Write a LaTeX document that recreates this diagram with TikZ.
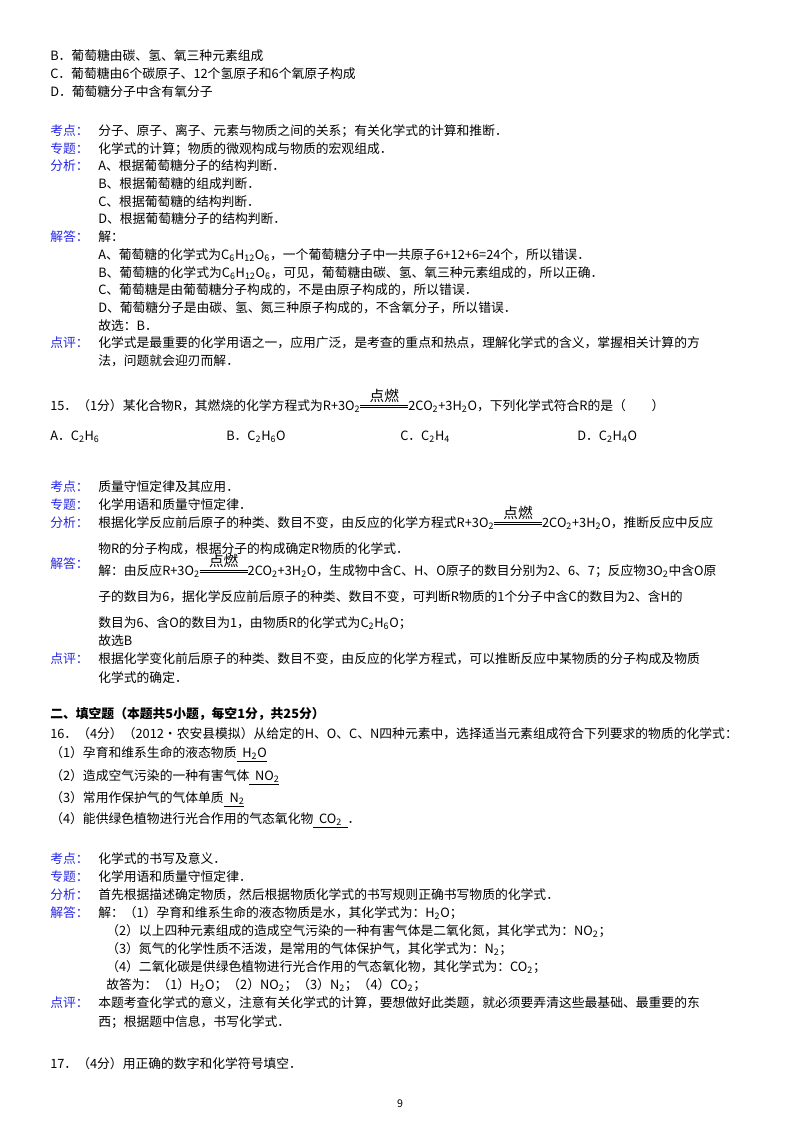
\documentclass[tikz,border=0pt]{standalone}
\usepackage{fontspec}
\setmainfont{Noto Sans CJK SC}
\definecolor{lbl}{RGB}{40,40,230}
\newcommand\s[1]{\textsubscript{#1}}
\newcommand\burn{\raisebox{1.6pt}{\rule{36pt}{0.6pt}}\hspace{-36pt}\raisebox{3.4pt}{\rule{36pt}{0.6pt}}\hspace{-36pt}\makebox[36pt]{\raisebox{6.5pt}{\fontsize{11}{11}\selectfont 点燃}}}
\begin{document}
\begin{tikzpicture}[x=0.75pt,y=-0.75pt,
  t/.style={anchor=base west,inner sep=0pt,font=\fontsize{9.6}{11}\selectfont},
  l/.style={t,text=lbl}]
\useasboundingbox (0,0) rectangle (800,1132);
\fill[white] (0,0) rectangle (800,1132);
% top options
\node[t] (b0) at (50,60) {B．葡萄糖由碳、氢、氧三种元素组成};
\node[t] (c0) at (50,78) {C．葡萄糖由6个碳原子、12个氢原子和6个氧原子构成};
\node[t] (d0) at (50,96) {D．葡萄糖分子中含有氧分子};
% section 14 analysis
\node[l] (k1) at (50,135) {考点：};
\node[t] at (98,135) {分子、原子、离子、元素与物质之间的关系；有关化学式的计算和推断．};
\node[l] (z1) at (50,153) {专题：};
\node[t] at (98,153) {化学式的计算；物质的微观构成与物质的宏观组成．};
\node[l] (f1) at (50,170) {分析：};
\node[t] at (98,170) {A、根据葡萄糖分子的结构判断．};
\node[t] at (98,188) {B、根据葡萄糖的组成判断．};
\node[t] at (98,206) {C、根据葡萄糖的结构判断．};
\node[t] at (98,223) {D、根据葡萄糖分子的结构判断．};
\node[l] (j1) at (50,241) {解答：};
\node[t] at (98,241) {解：};
\node[t] at (98,259) {A、葡萄糖的化学式为C\s{6}H\s{12}O\s{6}，一个葡萄糖分子中一共原子6+12+6=24个，所以错误．};
\node[t] at (98,277) {B、葡萄糖的化学式为C\s{6}H\s{12}O\s{6}，可见，葡萄糖由碳、氢、氧三种元素组成的，所以正确．};
\node[t] at (98,294) {C、葡萄糖是由葡萄糖分子构成的，不是由原子构成的，所以错误．};
\node[t] at (98,312) {D、葡萄糖分子是由碳、氢、氮三种原子构成的，不含氧分子，所以错误．};
\node[t] at (98,330) {故选：B．};
\node[l] (p1) at (50,347) {点评：};
\node[t] at (98,347) {化学式是最重要的化学用语之一，应用广泛，是考查的重点和热点，理解化学式的含义，掌握相关计算的方};
\node[t] at (98,365) {法，问题就会迎刃而解．};
% question 15
\node[t] (q15) at (50,410) {15．（1分）某化合物R，其燃烧的化学方程式为R+3O\s{2}\burn 2CO\s{2}+3H\s{2}O，下列化学式符合R的是（\qquad）};
\node[t] at (50,440) {A．C\s{2}H\s{6}};
\node[t] at (226,440) {B．C\s{2}H\s{6}O};
\node[t] at (400,440) {C．C\s{2}H\s{4}};
\node[t] at (577,440) {D．C\s{2}H\s{4}O};
\node[l] (k2) at (50,491) {考点：};
\node[t] at (98,491) {质量守恒定律及其应用．};
\node[l] (z2) at (50,509) {专题：};
\node[t] at (98,509) {化学用语和质量守恒定律．};
\node[l] (f2) at (50,527) {分析：};
\node[t] at (98,527) {根据化学反应前后原子的种类、数目不变，由反应的化学方程式R+3O\s{2}\burn 2CO\s{2}+3H\s{2}O，推断反应中反应};
\node[t] at (98,553) {物R的分子构成，根据分子的构成确定R物质的化学式．};
\node[l] (j2) at (50,568) {解答：};
\node[t] at (98,575) {解：由反应R+3O\s{2}\burn 2CO\s{2}+3H\s{2}O，生成物中含C、H、O原子的数目分别为2、6、7；反应物3O\s{2}中含O原};
\node[t] at (98,601) {子的数目为6，据化学反应前后原子的种类、数目不变，可判断R物质的1个分子中含C的数目为2、含H的};
\node[t] at (98,627) {数目为6、含O的数目为1，由物质R的化学式为C\s{2}H\s{6}O；};
\node[t] at (98,645) {故选B};
\node[l] (p2) at (50,663) {点评：};
\node[t] at (98,663) {根据化学变化前后原子的种类、数目不变，由反应的化学方程式，可以推断反应中某物质的分子构成及物质};
\node[t] at (98,682) {化学式的确定．};
% section 2
\node[t,font=\fontsize{9.6}{11}\selectfont\bfseries] (h2) at (50,718) {二、填空题（本题共5小题，每空1分，共25分）};
\node[t] (q16) at (50,738) {16．（4分）（2012•农安县模拟）从给定的H、O、C、N四种元素中，选择适当元素组成符合下列要求的物质的化学式：};
\node[t] at (50,757) {（1）孕育和维系生命的液态物质\underline{\ \ H\s{2}O}};
\node[t] at (50,780) {（2）造成空气污染的一种有害气体\underline{\ \ NO\s{2}}};
\node[t] at (50,802) {（3）常用作保护气的气体单质\underline{\ \ N\s{2}}};
\node[t] at (50,823) {（4）能供绿色植物进行光合作用的气态氧化物\underline{\ \ CO\s{2}\ \ }．};
\node[l] (k3) at (50,863) {考点：};
\node[t] at (98,863) {化学式的书写及意义．};
\node[l] (z3) at (50,881) {专题：};
\node[t] at (98,881) {化学用语和质量守恒定律．};
\node[l] (f3) at (50,899) {分析：};
\node[t] at (98,899) {首先根据描述确定物质，然后根据物质化学式的书写规则正确书写物质的化学式．};
\node[l] (j3) at (50,917) {解答：};
\node[t] at (98,917) {解：（1）孕育和维系生命的液态物质是水，其化学式为：H\s{2}O；};
\node[t] at (106,935) {（2）以上四种元素组成的造成空气污染的一种有害气体是二氧化氮，其化学式为：NO\s{2}；};
\node[t] at (106,953) {（3）氮气的化学性质不活泼，是常用的气体保护气，其化学式为：N\s{2}；};
\node[t] at (106,971) {（4）二氧化碳是供绿色植物进行光合作用的气态氧化物，其化学式为：CO\s{2}；};
\node[t] at (106,989) {故答为：（1）H\s{2}O；（2）NO\s{2}；（3）N\s{2}；（4）CO\s{2}；};
\node[l] (p3) at (50,1007) {点评：};
\node[t] at (98,1007) {本题考查化学式的意义，注意有关化学式的计算，要想做好此类题，就必须要弄清这些最基础、最重要的东};
\node[t] at (98,1026) {西；根据题中信息，书写化学式．};
\node[t] (q17) at (50,1068) {17．（4分）用正确的数字和化学符号填空．};
\node[anchor=base,inner sep=0pt,font=\fontsize{8}{9}\selectfont] (pg) at (400,1107) {9};
\end{tikzpicture}
\end{document}
